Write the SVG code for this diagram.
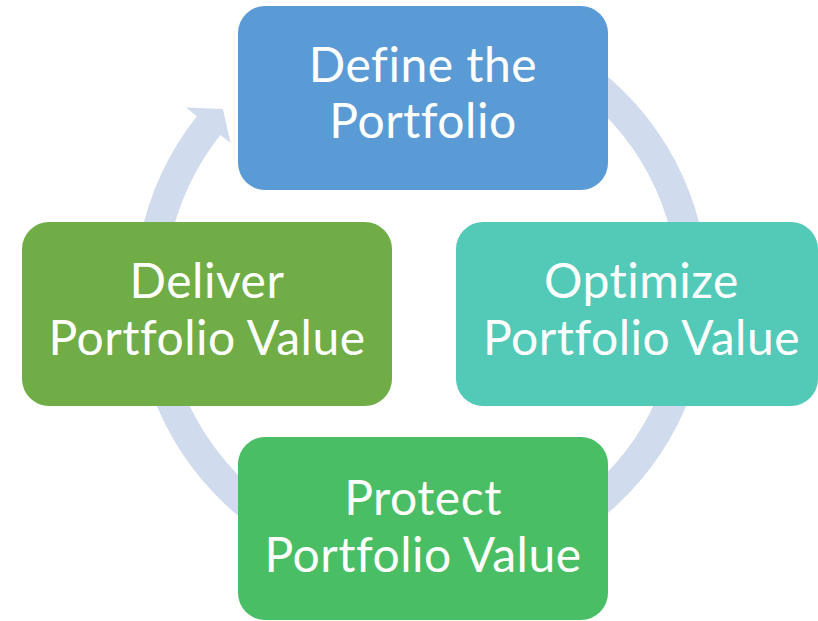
<svg xmlns="http://www.w3.org/2000/svg" width="818" height="621" viewBox="0 0 818 621">
  <style>
    .box { stroke: none; }
    .lbl { font-family: "Lato", "Liberation Sans", sans-serif; font-size: 48px; letter-spacing: 0.5px; font-variant-ligatures: none; fill: #FFFFFF; text-anchor: middle; }
    .ring { fill: #D0DBEE; stroke: none; }
  </style>
  <rect width="818" height="621" fill="#FFFFFF"/>
  <g id="connectors">
    <path class="ring" d="M 323.3 25.3 A 287 287 0 1 1 196.9 116.3 L 185.9 107.6 L 222.9 109.1 L 230.6 143.1 L 220.4 135.0 A 257 257 0 1 0 333.6 53.5 Z"/>
  </g>
  <g id="define">
    <rect class="box" x="238" y="6" width="370" height="184" rx="27" ry="27" fill="#5B9BD5"/>
    <text class="lbl" x="423" y="82">Define the</text>
    <text class="lbl" x="423" y="138">Portfolio</text>
  </g>
  <g id="optimize">
    <rect class="box" x="456" y="222" width="362" height="184" rx="27" ry="27" fill="#53C9B7"/>
    <text class="lbl" x="641.5" y="298">Optimize</text>
    <text class="lbl" x="641.5" y="355">Portfolio Value</text>
  </g>
  <g id="protect">
    <rect class="box" x="238" y="437" width="370" height="183" rx="27" ry="27" fill="#49BE64"/>
    <text class="lbl" x="423" y="515">Protect</text>
    <text class="lbl" x="423" y="572">Portfolio Value</text>
  </g>
  <g id="deliver">
    <rect class="box" x="22" y="222" width="370" height="184" rx="27" ry="27" fill="#70AD47"/>
    <text class="lbl" x="207" y="298">Deliver</text>
    <text class="lbl" x="207" y="355">Portfolio Value</text>
  </g>
</svg>
